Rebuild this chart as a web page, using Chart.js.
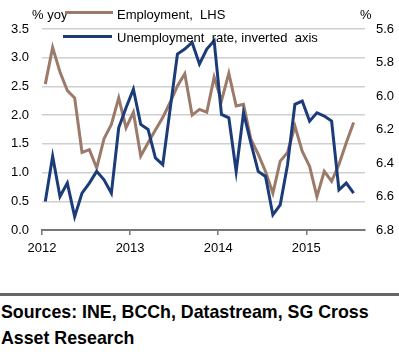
<!DOCTYPE html>
<html lang="en">
<head>
    <meta charset="UTF-8">
    <title>Employment vs unemployment</title>
    <script src="https://cdn.jsdelivr.net/npm/chart.js"></script>
    <style>
        body {
            margin: 0;
            width: 399px;
            height: 354px;
            background: #fff;
            font-family: "Liberation Sans", Arial, sans-serif;
            overflow: hidden;
            position: relative;
        }
        .chart-box {
            position: absolute;
            left: 0;
            top: 0;
            width: 399px;
            height: 260px;
        }
        .rule {
            position: absolute;
            left: 0;
            top: 293px;
            width: 399px;
            height: 0;
            border-top: 3px solid #666;
        }
        .source {
            position: absolute;
            left: 1px;
            top: 299px;
            font-weight: bold;
            font-size: 17.8px;
            line-height: 26px;
            color: #000;
        }
    </style>
</head>
<body>
    <div class="chart-box">
        <canvas id="chart"></canvas>
    </div>
    <div class="rule"></div>
    <div class="source">Sources: INE, BCCh, Datastream, SG Cross<br>Asset Research</div>

    <script>
        // monthly data, Jan 2012 .. Jul 2015
        const startYear = 2012;
        const employment = [2.54, 3.18, 2.75, 2.43, 2.30, 1.35, 1.40, 1.08, 1.59, 1.84, 2.30, 1.78,
            2.05, 1.29, 1.52, 1.74, 1.96, 2.22, 2.51, 2.72, 2.00, 2.10, 2.05, 2.66,
            2.25, 2.73, 2.16, 2.19, 1.58, 1.32, 1.02, 0.64, 1.20, 1.35, 1.81, 1.37,
            1.11, 0.58, 1.02, 0.85, 1.14, 1.52, 1.87];
        const unemployment = [6.63, 6.36, 6.60, 6.52, 6.72, 6.58, 6.52, 6.45, 6.50, 6.58, 6.19, 6.07,
            5.96, 6.17, 6.20, 6.37, 6.41, 6.08, 5.75, 5.72, 5.68, 5.81, 5.72, 5.67,
            6.11, 6.13, 6.45, 6.10, 6.28, 6.45, 6.48, 6.71, 6.65, 6.41, 6.05, 6.03,
            6.15, 6.10, 6.12, 6.15, 6.56, 6.52, 6.58];
        const leftTicks = [0, 0.5, 1, 1.5, 2, 2.5, 3, 3.5];
        const rightTicks = [5.6, 5.8, 6.0, 6.2, 6.4, 6.6, 6.8];
        const yearTicks = [2012, 2013, 2014, 2015];

        const brown = '#9b7a6a';
        const navy = '#1b3c78';
        const tickFont = { family: 'Liberation Sans', size: 13 };

        // points sit mid-month
        const toPoints = arr => arr.map((v, i) => ({ x: i + 0.45, y: v }));

        // legend + unit labels drawn on top of the plot
        const legendPlugin = {
            id: 'legendText',
            afterDraw(chart) {
                const ctx = chart.ctx;
                ctx.save();
                ctx.font = '13px "Liberation Sans"';
                ctx.fillStyle = '#000';
                ctx.textBaseline = 'middle';
                ctx.textAlign = 'left';
                ctx.fillText('% yoy', 32, 15);
                ctx.fillText('Employment,  LHS', 117, 15);
                ctx.fillText('Unemployment  rate, inverted  axis', 117, 38);
                ctx.fillText('%', 360, 15);

                ctx.lineWidth = 3;
                ctx.strokeStyle = brown;
                ctx.beginPath();
                ctx.moveTo(65, 12.5);
                ctx.lineTo(113, 12.5);
                ctx.stroke();
                ctx.strokeStyle = navy;
                ctx.beginPath();
                ctx.moveTo(63, 36.5);
                ctx.lineTo(112, 36.5);
                ctx.stroke();
                ctx.restore();
            }
        };

        new Chart(document.getElementById('chart'), {
            type: 'line',
            data: {
                datasets: [
                    {
                        label: 'Employment, LHS',
                        data: toPoints(employment),
                        yAxisID: 'y',
                        borderColor: brown,
                        borderWidth: 3,
                        pointRadius: 0,
                        tension: 0,
                        order: 1
                    },
                    {
                        label: 'Unemployment rate, inverted axis',
                        data: toPoints(unemployment),
                        yAxisID: 'y1',
                        borderColor: navy,
                        borderWidth: 3,
                        pointRadius: 0,
                        tension: 0,
                        order: 0
                    }
                ]
            },
            options: {
                responsive: true,
                maintainAspectRatio: false,
                animation: false,
                layout: { padding: { top: 29, left: 0, right: 0, bottom: 0 } },
                plugins: {
                    legend: { display: false },
                    tooltip: { enabled: false }
                },
                scales: {
                    x: {
                        type: 'linear',
                        min: 0,
                        max: 44,
                        afterFit: s => { s.height = 30; },
                        afterBuildTicks: s => {
                            s.ticks = yearTicks.map(y => ({ value: (y - startYear) * 12 }));
                        },
                        ticks: {
                            font: tickFont,
                            color: '#000',
                            padding: 6,
                            maxRotation: 0,
                            callback: v => String(startYear + v / 12)
                        },
                        grid: {
                            drawOnChartArea: false,
                            drawTicks: true,
                            tickLength: 5,
                            color: '#777',
                            lineWidth: 1.5
                        },
                        border: { display: true, color: '#777', width: 2 }
                    },
                    y: {
                        position: 'left',
                        min: 0,
                        max: 3.5,
                        afterFit: s => { s.width = 42; },
                        afterBuildTicks: s => {
                            s.ticks = leftTicks.map(v => ({ value: v }));
                        },
                        ticks: {
                            font: tickFont,
                            color: '#000',
                            padding: 13,
                            callback: v => v.toFixed(1)
                        },
                        grid: { color: '#cfcfcf', lineWidth: 1.5, drawTicks: false },
                        border: { display: false }
                    },
                    y1: {
                        position: 'right',
                        reverse: true,
                        min: 5.6,
                        max: 6.8,
                        afterFit: s => { s.width = 34; },
                        afterBuildTicks: s => {
                            s.ticks = rightTicks.map(v => ({ value: v }));
                        },
                        ticks: {
                            font: tickFont,
                            color: '#000',
                            padding: 11,
                            callback: v => v.toFixed(1)
                        },
                        grid: { display: false, drawTicks: false },
                        border: { display: false }
                    }
                }
            },
            plugins: [legendPlugin]
        });
    </script>
</body>
</html>
